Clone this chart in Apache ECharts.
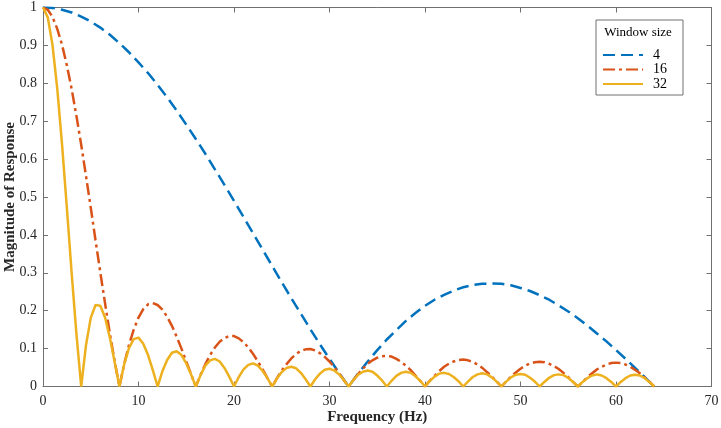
<!DOCTYPE html>
<html><head><meta charset="utf-8">
<script src="https://cdn.jsdelivr.net/npm/echarts@6/dist/echarts.min.js"></script>
<style>html,body{margin:0;padding:0;background:#fff}#c{width:721px;height:428px}</style>
</head><body><div id="c"></div>
<script>
const seriesNames = ['4', '16', '32'];
const legendTitle = 'Window size';
const xName = 'Frequency (Hz)';
const yName = 'Magnitude of Response';

const freqInt = [0,1,2,3,4,5,6,7,8,9,10,11,12,13,14,15,16,17,18,19,20,21,22,23,24,25,26,27,28,29,30,31,32,
33,34,35,36,37,38,39,40,41,42,43,44,45,46,47,48,49,50,51,52,53,54,55,56,57,58,59,60,61,62,63,64];

const freqHalf = [0,0.5,1,1.5,2,2.5,3,3.5,4,4.5,5,5.5,6,6.5,7,7.5,8,8.5,9,9.5,10,10.5,11,11.5,12,12.5,13,13.5,14,14.5,15,15.5,16,
16.5,17,17.5,18,18.5,19,19.5,20,20.5,21,21.5,22,22.5,23,23.5,24,24.5,25,25.5,26,26.5,27,27.5,28,28.5,29,29.5,30,30.5,31,31.5,32,
32.5,33,33.5,34,34.5,35,35.5,36,36.5,37,37.5,38,38.5,39,39.5,40,40.5,41,41.5,42,42.5,43,43.5,44,44.5,45,45.5,46,46.5,47,47.5,48,
48.5,49,49.5,50,50.5,51,51.5,52,52.5,53,53.5,54,54.5,55,55.5,56,56.5,57,57.5,58,58.5,59,59.5,60,60.5,61,61.5,62,62.5,63,63.5,64];

const win4 = [1,.999,.994,.987,.976,.963,.947,.928,.906,.882,.855,.827,.796,.763,.728,.691,.653,.614,.573,.532,.490,.447,.404,.361,.318,.275,.233,.192,.151,.111,.073,.036,0,
.034,.066,.096,.124,.149,.173,.194,.213,.229,.242,.253,.262,.268,.271,.272,.271,.267,.260,.252,.241,.229,.214,.198,.180,.161,.140,.119,.096,.073,.049,.025,0];

const win16 = [1,.994,.975,.943,.901,.847,.785,.714,.638,.556,.472,.386,.301,.219,.140,.067,0,
.059,.109,.150,.182,.204,.217,.220,.215,.203,.184,.160,.131,.100,.066,.033,0,
.031,.059,.083,.103,.118,.128,.133,.133,.127,.117,.103,.086,.066,.045,.022,0,
.022,.042,.059,.074,.086,.094,.098,.099,.095,.088,.078,.066,.051,.035,.017,0,
.017,.033,.047,.060,.069,.076,.080,.081,.079,.073,.065,.055,.043,.029,.015,0,
.015,.028,.041,.052,.060,.066,.070,.071,.069,.065,.058,.049,.038,.026,.013,0,
.013,.026,.037,.047,.055,.061,.064,.065,.064,.060,.054,.046,.036,.025,.012,0,
.012,.024,.035,.045,.052,.058,.062,.063,.062,.058,.052,.044,.035,.024,.012,0];

const win32 = [1,.974,.900,.784,.637,.471,.300,.139,0,
.109,.181,.215,.213,.182,.129,.065,0,
.058,.101,.125,.129,.113,.083,.043,0,
.040,.070,.089,.093,.083,.061,.032,0,
.030,.055,.069,.073,.066,.049,.026,0,
.025,.045,.057,.061,.055,.041,.022,0,
.021,.038,.049,.052,.048,.036,.019,0,
.019,.034,.044,.047,.042,.032,.017,0,
.017,.031,.039,.042,.039,.029,.016,0,
.015,.028,.036,.039,.036,.027,.015,0,
.014,.026,.034,.036,.033,.025,.014,0,
.013,.025,.032,.035,.032,.024,.013,0,
.013,.024,.031,.033,.031,.023,.013,0,
.012,.023,.030,.032,.030,.023,.012,0,
.012,.022,.029,.032,.029,.022,.012,0,
.012,.022,.029,.031,.029,.022,.012,0];

const FONT = '"Liberation Serif", "Times New Roman", serif';
const AX = '#707070';
const TXT = '#262626';

const zip = (xs, ys) => xs.map((x, i) => [x, ys[i]]);

const chart = echarts.init(document.getElementById('c'), null, {renderer: 'canvas'});

const baseX = {
  type: 'value', min: 0, max: 70, interval: 10,
  axisLine: {show: true, onZero: false, lineStyle: {color: AX, width: 1}},
  axisTick: {show: true, inside: true, length: 5, lineStyle: {color: AX, width: 1}},
  splitLine: {show: false}
};
const baseY = {
  type: 'value', min: 0, max: 1, interval: 0.1,
  axisLine: {show: true, onZero: false, lineStyle: {color: AX, width: 1}},
  axisTick: {show: true, inside: true, length: 5, lineStyle: {color: AX, width: 1}},
  splitLine: {show: false}
};

chart.setOption({
  animation: false,
  backgroundColor: '#fff',
  grid: {left: 43, right: 9.5, top: 7.5, bottom: 41.5, containLabel: false, outerBoundsMode: 'none'},
  xAxis: [
    Object.assign({}, baseX, {
      position: 'bottom',
      axisLabel: {color: TXT, fontFamily: FONT, fontSize: 14, margin: 8},
      name: xName, nameLocation: 'middle', nameGap: 23, nameMoveOverlap: false,
      nameTextStyle: {color: TXT, fontFamily: FONT, fontSize: 15, fontWeight: 'bold'}
    }),
    Object.assign({}, baseX, {position: 'top', axisLabel: {show: false}})
  ],
  yAxis: [
    Object.assign({}, baseY, {
      position: 'left',
      axisLabel: {color: TXT, fontFamily: FONT, fontSize: 14, margin: 6},
      name: yName, nameLocation: 'middle', nameGap: 25, nameMoveOverlap: false,
      nameTextStyle: {color: TXT, fontFamily: FONT, fontSize: 15, fontWeight: 'bold'}
    }),
    Object.assign({}, baseY, {position: 'right', axisLabel: {show: false}})
  ],
  legend: {
    show: true, orient: 'vertical', left: 596, top: 20,
    padding: [28, 16, 4, 6],
    itemWidth: 40, itemHeight: 14, itemGap: 0.5,
    borderColor: '#707070', borderWidth: 1, backgroundColor: '#fff',
    itemStyle: {opacity: 0},
    textStyle: {fontFamily: FONT, fontSize: 14, color: '#000', padding: [0, 0, 0, 5]},
    data: seriesNames
  },
  graphic: [{
    type: 'text', x: 638, y: 33, z: 100,
    style: {text: legendTitle, font: '13px "Liberation Serif"', fill: '#000', align: 'center', verticalAlign: 'middle'}
  }],
  series: [
    {name: seriesNames[0], type: 'line', symbol: 'none', showSymbol: false, xAxisIndex: 0, yAxisIndex: 0,
     color: '#0072BD', lineStyle: {color: '#0072BD', width: 2.5, type: [12, 6]},
     data: zip(freqInt, win4)},
    {name: seriesNames[1], type: 'line', symbol: 'none', showSymbol: false, xAxisIndex: 0, yAxisIndex: 0,
     color: '#D95319', lineStyle: {color: '#D95319', width: 2.5, type: [12, 4, 3, 4]},
     data: zip(freqHalf, win16)},
    {name: seriesNames[2], type: 'line', symbol: 'none', showSymbol: false, xAxisIndex: 0, yAxisIndex: 0,
     color: '#EDB120', lineStyle: {color: '#EDB120', width: 2.5, type: 'solid'},
     data: zip(freqHalf, win32)}
  ]
});
</script>
</body></html>
